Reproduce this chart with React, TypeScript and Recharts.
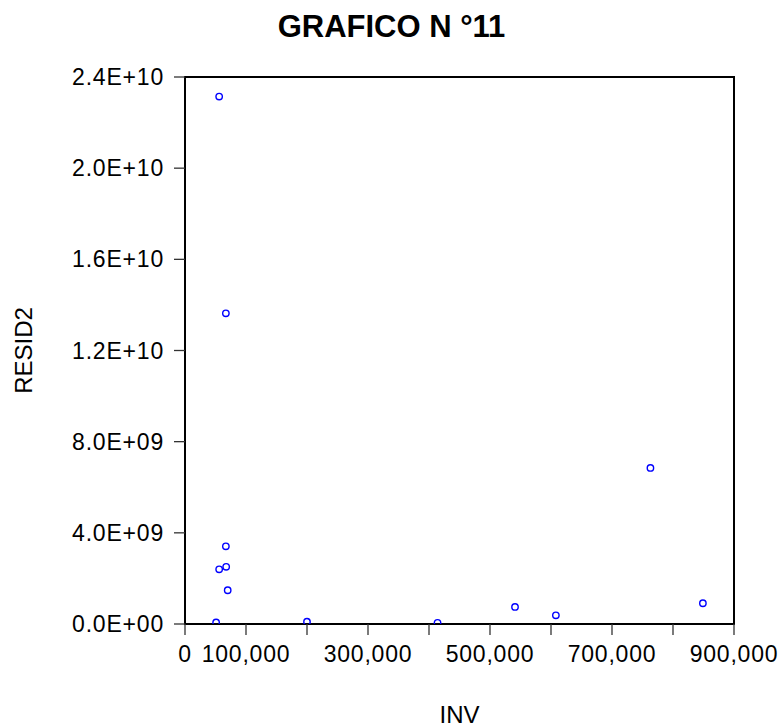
import React from 'react';
import { ScatterChart, Scatter, XAxis, YAxis, ReferenceArea } from 'recharts';

const INV = [56000, 67000, 67000, 67500, 56000, 70000, 51000, 200000, 414000, 541000, 608000, 763000, 849000];
const RESID2 = [23.14e9, 13.63e9, 3.41e9, 2.51e9, 2.40e9, 1.48e9, 0.07e9, 0.1e9, 0.05e9, 0.75e9, 0.38e9, 6.85e9, 0.91e9];

const X_TICKS = [0, 100000, 200000, 300000, 400000, 500000, 600000, 700000, 800000, 900000];
const X_LABELED = [0, 100000, 300000, 500000, 700000, 900000];
const Y_TICKS = [0, 4e9, 8e9, 1.2e10, 1.6e10, 2.0e10, 2.4e10];
const Y_TICK_LABELS = ['0.0E+00', '4.0E+09', '8.0E+09', '1.2E+10', '1.6E+10', '2.0E+10', '2.4E+10'];

const TITLE = 'GRAFICO N °11';
const X_NAME = 'INV';
const Y_NAME = 'RESID2';

const data = INV.map((x, i) => ({ x, y: RESID2[i] }));

const FONT = '"Liberation Sans", Arial, sans-serif';

const XTick = (props: any) => {
  const { x, y, payload } = props;
  if (!X_LABELED.includes(payload.value)) return null;
  return (
    <text x={x} y={y} dy="0.71em" textAnchor="middle" fontFamily={FONT} fontSize={23} letterSpacing={0.8} fill="#000">
      {payload.value.toLocaleString('en-US')}
    </text>
  );
};

const YTick = (props: any) => {
  const { x, y, payload } = props;
  const idx = Y_TICKS.indexOf(payload.value);
  return (
    <text x={x} y={y} dy="0.355em" textAnchor="end" fontFamily={FONT} fontSize={23} letterSpacing={0.8} fill="#000">
      {Y_TICK_LABELS[idx]}
    </text>
  );
};

const Dot = (props: any) => (
  <circle cx={props.cx} cy={props.cy} r={3.2} fill="none" stroke="#0000ff" strokeWidth={1.4} />
);

export default function App() {
  return (
    <div style={{ position: 'absolute', left: 0, top: 0, width: 783, height: 727, background: '#fff' }}>
      <div
        style={{
          position: 'absolute',
          left: 0,
          top: 10.5,
          width: 783,
          textAlign: 'center',
          fontFamily: FONT,
          fontWeight: 'bold',
          fontSize: 31,
          lineHeight: '31px',
          color: '#000',
        }}
      >
        {TITLE}
      </div>
      <ScatterChart width={783} height={727} margin={{ top: 77, right: 49, left: 0, bottom: 0 }}>
        <XAxis
          type="number"
          dataKey="x"
          domain={[0, 900000]}
          ticks={X_TICKS}
          interval={0}
          height={103}
          axisLine={false}
          tickLine={{ stroke: '#333', strokeWidth: 1.3 }}
          tickSize={11}
          tickMargin={11}
          tick={<XTick />}
          allowDataOverflow
          label={{
            content: (p: any) => {
              const vb = p.viewBox;
              return (
                <text x={vb.x + vb.width / 2} y={vb.y + 99} textAnchor="middle" fontFamily={FONT} fontSize={24} fill="#000">
                  {X_NAME}
                </text>
              );
            },
          }}
        />
        <YAxis
          type="number"
          dataKey="y"
          domain={[0, 2.4e10]}
          ticks={Y_TICKS}
          interval={0}
          width={185}
          axisLine={false}
          tickLine={{ stroke: '#333', strokeWidth: 1.3 }}
          tickSize={11}
          tickMargin={10}
          tick={<YTick />}
          allowDataOverflow
          label={{
            content: (p: any) => {
              const vb = p.viewBox;
              const cy = vb.y + vb.height / 2;
              return (
                <text x={32} y={cy} transform={`rotate(-90 32 ${cy})`} textAnchor="middle" fontFamily={FONT} fontSize={24} fill="#000">
                  {Y_NAME}
                </text>
              );
            },
          }}
        />
        <ReferenceArea x1={0} x2={900000} y1={0} y2={2.4e10} fill="none" stroke="#000" strokeWidth={2} strokeOpacity={1} fillOpacity={0} ifOverflow="visible" />
        <Scatter data={data} shape={<Dot />} isAnimationActive={false} />
      </ScatterChart>
    </div>
  );
}
